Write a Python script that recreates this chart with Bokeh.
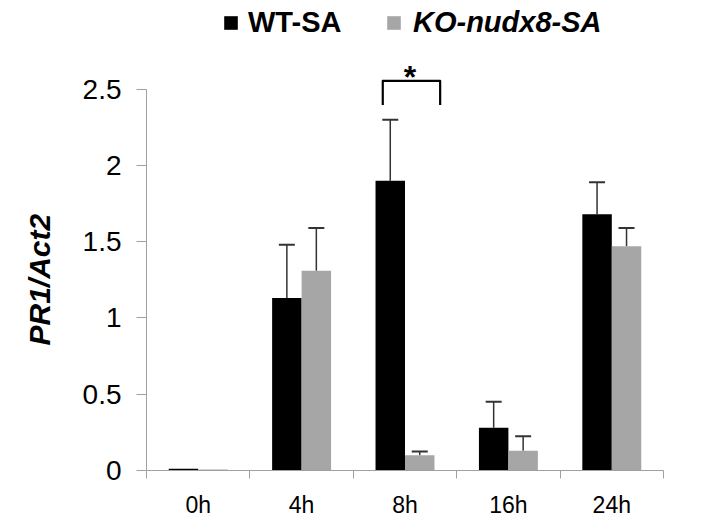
import numpy as np
from bokeh.plotting import figure
from bokeh.models import (ColumnDataSource, Range1d, FixedTicker, NumeralTickFormatter,
                          Whisker, TeeHead, Legend, LegendItem, Title)
from bokeh.core.properties import value
from bokeh.embed import file_html
from bokeh.resources import INLINE

# ---- data ----
categories = ["0h", "4h", "8h", "16h", "24h"]
wt_values = [0.012, 1.13, 1.90, 0.28, 1.68]
wt_errors = [np.nan, 0.35, 0.40, 0.17, 0.21]
ko_values = [0.006, 1.31, 0.10, 0.13, 1.47]
ko_errors = [np.nan, 0.28, 0.025, 0.095, 0.12]
series_names = ["WT-SA", "KO-nudx8-SA"]
y_ticks = [0, 0.5, 1, 1.5, 2, 2.5]
y_label = "PR1/Act2"

# ---- styling ----
FONT = "Liberation Sans"
WT_COLOR = "#000000"
KO_COLOR = "#A6A6A6"
AXIS_COLOR = "#A0A0A0"
ERR_COLOR = "#333333"
BAR_W = 0.285

n = len(categories)
centers = np.arange(n) + 0.5

wt_src = ColumnDataSource(dict(
    x=centers - BAR_W / 2, top=wt_values,
    upper=np.array(wt_values) + np.array(wt_errors), base=wt_values))
ko_src = ColumnDataSource(dict(
    x=centers + BAR_W / 2, top=ko_values,
    upper=np.array(ko_values) + np.array(ko_errors), base=ko_values))

p = figure(width=700, height=520, output_backend="svg", toolbar_location=None,
           x_range=Range1d(0, n), y_range=Range1d(0, 3.081),
           min_border_left=145, min_border_right=37, min_border_top=0,
           min_border_bottom=48)
p.outline_line_color = None
p.xgrid.visible = False
p.ygrid.visible = False
p.background_fill_color = "white"

r_wt = p.vbar(x="x", top="top", width=BAR_W, source=wt_src,
              fill_color=WT_COLOR, line_color=None)
r_ko = p.vbar(x="x", top="top", width=BAR_W, source=ko_src,
              fill_color=KO_COLOR, line_color=None)

for src in (wt_src, ko_src):
    w = Whisker(source=src, base="x", upper="upper", lower="base",
                dimension="height", line_color=ERR_COLOR, line_width=1.5,
                upper_head=TeeHead(size=16, line_color=ERR_COLOR, line_width=2),
                lower_head=None)
    p.add_layout(w)

# significance bracket at 8h
sig_idx = categories.index("8h")
bx0 = sig_idx + 0.285
bx1 = sig_idx + 0.84
by0, by1 = 2.396, 2.554
p.line(x=[bx0, bx0, bx1, bx1], y=[by0, by1, by1, by0], line_color="black",
       line_width=2.2, line_join="round")
p.text(x=[sig_idx + 0.548], y=[2.578], text=["*"], text_font=value(FONT),
       text_font_size="32px", text_font_style="bold", text_align="center",
       text_baseline="alphabetic", text_color="black")

# ---- axes ----
xa = p.xaxis[0]
xa.ticker = FixedTicker(ticks=list(centers), minor_ticks=list(range(n + 1)))
xa.major_label_overrides = {float(c): lab for c, lab in zip(centers, categories)}
xa.bounds = (0, n)
xa.axis_line_color = AXIS_COLOR
xa.major_tick_line_color = None
xa.major_tick_out = 0
xa.major_tick_in = 0
xa.minor_tick_line_color = AXIS_COLOR
xa.minor_tick_out = 8
xa.minor_tick_in = 0
xa.major_label_standoff = 13
xa.major_label_text_font = FONT
xa.major_label_text_font_size = "23px"
xa.major_label_text_color = "black"

ya = p.yaxis[0]
ya.ticker = FixedTicker(ticks=y_ticks)
ya.formatter = NumeralTickFormatter(format="0.[0]")
ya.bounds = (0, 2.5)
ya.axis_line_color = AXIS_COLOR
ya.major_tick_line_color = AXIS_COLOR
ya.major_tick_out = 10
ya.major_tick_in = 0
ya.minor_tick_line_color = None
ya.major_label_standoff = 15
ya.major_label_text_font = FONT
ya.major_label_text_font_size = "28px"
ya.major_label_text_color = "black"

# y-axis title (side title so it can sit centred on the 0-2.5 span)
p.add_layout(Title(text=y_label, align="left", offset=125, vertical_align="top",
                   standoff=44, text_font=FONT, text_font_size="30px",
                   text_font_style="bold italic", text_color="black"), "left")

# ---- legend ----
def make_legend(label, renderer, style, loc, standoff):
    lg = Legend(items=[LegendItem(label=label, renderers=[renderer])],
                location=loc, orientation="horizontal",
                glyph_width=17, glyph_height=17, label_standoff=standoff,
                padding=0, margin=0, spacing=0,
                border_line_color=None, background_fill_alpha=0,
                label_text_font=FONT, label_text_font_size="29px",
                label_text_font_style=style, label_text_color="black")
    p.add_layout(lg)

make_legend(series_names[0], r_wt, "bold", (76, 431), 9)
make_legend(series_names[1], r_ko, "bold italic", (239, 431), 11)

open("out.html", "w").write(file_html(p, INLINE))
